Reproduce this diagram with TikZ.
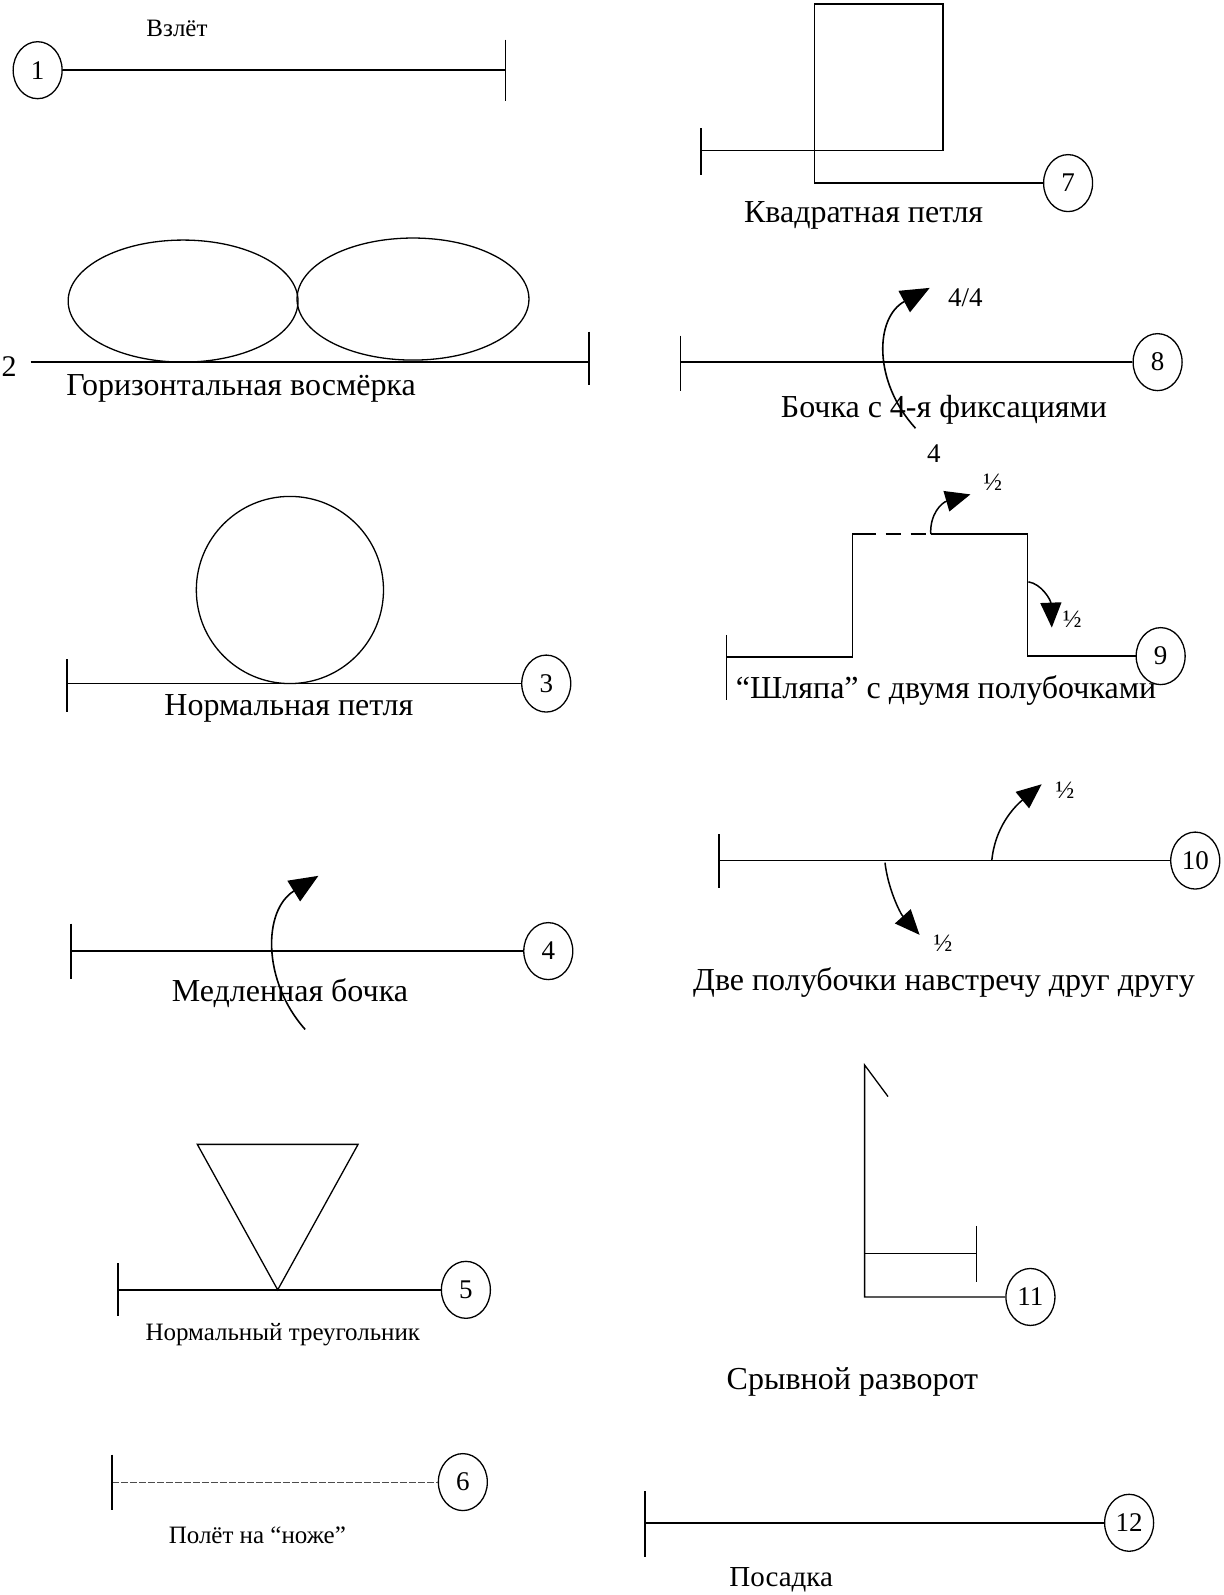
\documentclass[tikz,border=0pt]{standalone}
\usepackage{fontspec}
\setmainfont{Liberation Serif}
\usetikzlibrary{shapes.geometric,arrows.meta}
\begin{document}
\begin{tikzpicture}[x=1.0175pt,y=-1.0175pt,
  fig/.style={line width=1.6pt,line cap=butt},
  thin fig/.style={line width=1.3pt},
  num/.style={draw,ellipse,line width=1.3pt,minimum width=49pt,minimum height=57pt,inner sep=0pt,font=\fontsize{27}{29}\selectfont},
  lbl/.style={inner sep=0pt,font=\fontsize{32}{34}\selectfont},
  small/.style={inner sep=0pt,font=\fontsize{25}{27}\selectfont},
  frac/.style={inner sep=0pt,font=\fontsize{25}{27}\selectfont},
  tipped/.style={line width=1.6pt,-{Triangle[length=29pt,width=24pt]}},
  tiptop/.style={line width=1.5pt,-{Triangle[length=25pt,width=21pt]}}]
\useasboundingbox (0,0) rectangle (1203,1568);
\fill[white] (0,0) rectangle (1203,1568);

% ---------- 1 Взлёт ----------
\node[num] (n1) at (37,69) {1};
\coordinate (e1) at (497,69);
\draw[fig] (n1) -- (e1);
\draw[fig] (497,39) -- (497,99);
\node[small] (l1) at (174,28) {Взлёт};

% ---------- 2 Горизонтальная восмёрка ----------
\node[inner sep=0pt,font=\fontsize{30}{32}\selectfont] (n2) at (9,360) {2};
\coordinate (s2) at (30,356);
\coordinate (e2) at (579,356);
\draw[fig] (s2) -- (e2);
\draw[fig] (579,326) -- (579,378);
\draw[thin fig] (180,296) ellipse [x radius=113, y radius=60];
\draw[thin fig] (406,294) ellipse [x radius=114, y radius=60];
\node[lbl] (l2) at (237,382) {Горизонтальная восмёрка};

% ---------- 3 Нормальная петля ----------
\node[num] (n3) at (537,672) {3};
\coordinate (s3) at (66,672);
\draw[fig] (s3) -- (n3);
\draw[fig] (66,648) -- (66,700);
\draw[thin fig] (285,580) ellipse [x radius=92, y radius=92];
\node[lbl] (l3) at (284,696) {Нормальная петля};

% ---------- 4 Медленная бочка ----------
\node[num] (n4) at (539,935) {4};
\coordinate (s4) at (70,935);
\draw[fig] (s4) -- (n4);
\draw[fig] (70,908) -- (70,962);
\node[lbl] (l4) at (285,976) {Медленная бочка};
\coordinate (a4s) at (300,1012);
\coordinate (a4e) at (313,861);
\draw[tipped] (a4s) .. controls (258,965) and (258,895) .. (a4e);

% ---------- 5 Нормальный треугольник ----------
\node[num] (n5) at (458,1268) {5};
\coordinate (s5) at (116,1268);
\coordinate (v5) at (273,1268);
\coordinate (tl5) at (194,1125);
\coordinate (tr5) at (352,1125);
\draw[fig] (s5) -- (n5);
\draw[fig] (116,1242) -- (116,1294);
\draw[thin fig,line join=miter] (v5) -- (tl5) -- (tr5) -- cycle;
\node[small] (l5) at (278,1312) {Нормальный треугольник};

% ---------- 6 Полёт на ноже ----------
\node[num] (n6) at (455,1457) {6};
\coordinate (s6) at (110,1457);
\draw[line width=1.2pt,black!70,dash pattern=on 7pt off 2pt] (s6) -- (n6);
\draw[fig] (110,1430) -- (110,1484);
\node[small] (l6) at (253,1509) {Полёт на “ноже”};

% ---------- 7 Квадратная петля ----------
\node[num] (n7) at (1050,180) {7};
\coordinate (s7) at (689,148);
\coordinate (r7) at (927,148);
\coordinate (rt7) at (927,4);
\coordinate (lt7) at (801,4);
\coordinate (lb7) at (801,180);
\draw[fig] (689,126) -- (689,172);
\draw[thin fig,line join=miter] (s7) -- (r7) -- (rt7) -- (lt7) -- (lb7) -- (n7);
\node[lbl] (l7) at (849,212) {Квадратная петля};

% ---------- 8 Бочка с 4-я фиксациями ----------
\node[num] (n8) at (1138,356) {8};
\coordinate (s8) at (669,356);
\draw[fig] (s8) -- (n8);
\draw[fig] (669,330) -- (669,384);
\node[lbl] (l8) at (928,403) {Бочка с 4-я фиксациями};
\coordinate (a8s) at (900,421);
\coordinate (a8e) at (914,283);
\draw[tipped] (a8s) .. controls (858,375) and (860,312) .. (a8e);
\node[lbl,font=\fontsize{27}{29}\selectfont] (f8a) at (949,293) {4/4};
\node[lbl,font=\fontsize{27}{29}\selectfont] (f8b) at (918,446) {4};

% ---------- 9 Шляпа ----------
\node[num] (n9) at (1141,645) {9};
\coordinate (s9) at (714,646);
\coordinate (b9) at (838,646);
\coordinate (u9) at (838,525);
\coordinate (d9) at (912,525);
\coordinate (m9) at (915,525);
\coordinate (rt9) at (1010,525);
\coordinate (rb9) at (1010,645);
\draw[fig] (714,624) -- (714,688);
\draw[thin fig,line join=miter] (s9) -- (b9) -- (u9) -- ++(8,0);
\draw[thin fig,dash pattern=on 15pt off 10pt] (846,525) -- (d9);
\draw[thin fig,line join=miter] (m9) -- (rt9) -- (rb9) -- (n9);
\draw[tiptop] (m9) .. controls (914,505) and (926,494) .. (954,486);
\coordinate (a9b) at (1011,572);
\draw[tiptop] (a9b) .. controls (1024,574) and (1033,590) .. (1034,617);
\node[frac] (f9a) at (976,474) {½};
\node[frac] (f9b) at (1054,609) {½};
\node[lbl] (l9) at (930,679) {“Шляпа” с двумя полубочками};

% ---------- 10 Две полубочки ----------
\node[num] (n10) at (1175,846) {10};
\coordinate (s10) at (707,846);
\draw[fig] (s10) -- (n10);
\draw[fig] (707,820) -- (707,873);
\coordinate (a10u) at (975,846);
\draw[tiptop] (a10u) .. controls (978,814) and (996,794) .. (1024,771);
\coordinate (a10d) at (870,848);
\draw[tiptop] (a10d) .. controls (873,874) and (885,898) .. (904,919);
\node[frac] (f10a) at (1047,777) {½};
\node[frac] (f10b) at (927,927) {½};
\node[lbl] (l10) at (928,966) {Две полубочки навстречу друг другу};

% ---------- 11 Срывной разворот ----------
\node[num] (n11) at (1013,1275) {11};
\coordinate (top11) at (850,1047);
\coordinate (sl11) at (873,1078);
\coordinate (bot11) at (850,1275);
\coordinate (mid11) at (850,1232);
\coordinate (e11) at (960,1232);
\draw[thin fig,line join=miter] (sl11) -- (top11) -- (bot11) -- (n11);
\draw[thin fig] (mid11) -- (e11);
\draw[fig] (960,1205) -- (960,1260);
\node[lbl] (l11) at (838,1359) {Срывной разворот};

% ---------- 12 Посадка ----------
\node[num] (n12) at (1110,1497) {12};
\coordinate (s12) at (634,1497);
\draw[fig] (s12) -- (n12);
\draw[fig] (634,1466) -- (634,1531);
\node[lbl,font=\fontsize{29}{31}\selectfont] (l12) at (768,1553) {Посадка};
\end{tikzpicture}
\end{document}
